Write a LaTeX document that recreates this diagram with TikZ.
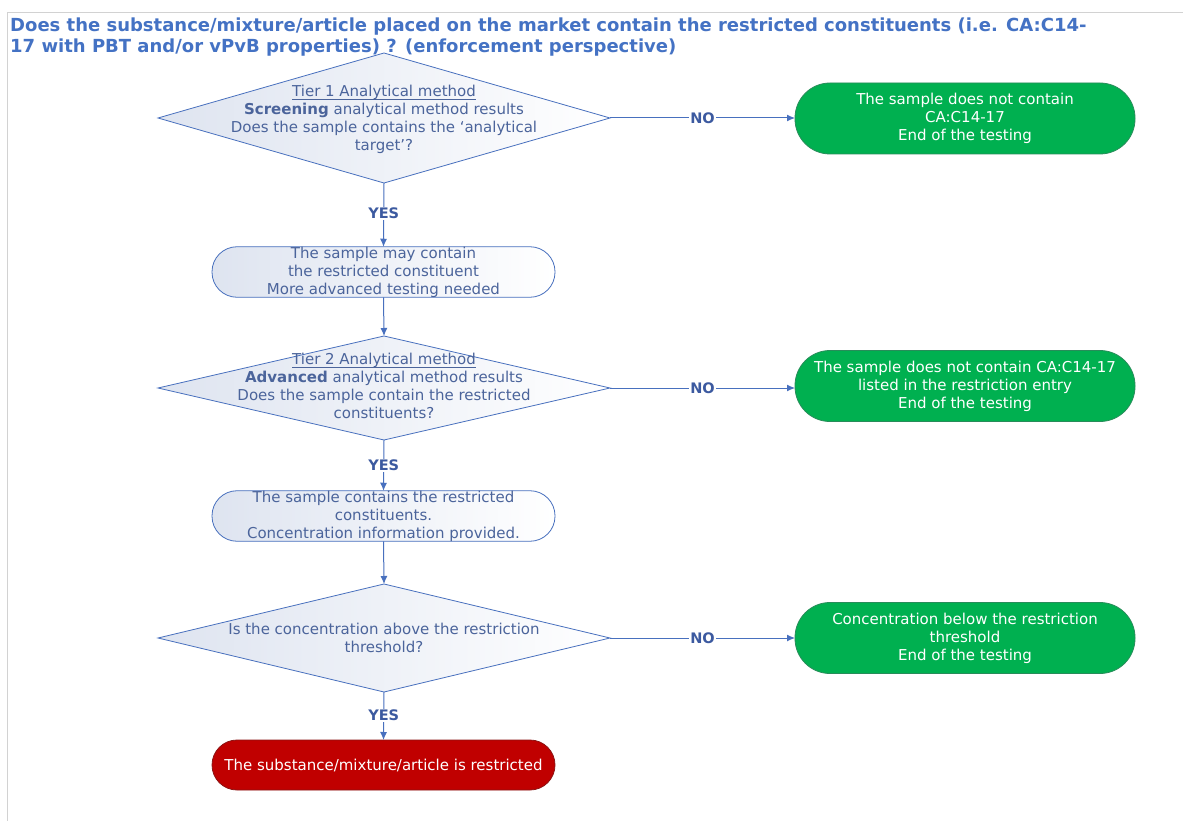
\documentclass[tikz,border=0pt]{standalone}
\usepackage{fontspec}
\setmainfont{DejaVu Sans}
\usetikzlibrary{arrows.meta,shapes.geometric}
\definecolor{titleblue}{RGB}{68,114,196}
\definecolor{txtblue}{RGB}{75,100,155}
\definecolor{lineblue}{RGB}{72,112,190}
\definecolor{lblblue}{RGB}{60,90,160}
\definecolor{boxgreen}{RGB}{0,176,80}
\definecolor{greenedge}{RGB}{40,140,90}
\definecolor{boxred}{RGB}{192,0,0}
\definecolor{rededge}{RGB}{140,20,20}
\definecolor{shadeblue}{RGB}{222,228,240}
\newcommand{\myul}[1]{\setbox0\hbox{#1}\rlap{\raisebox{-3pt}{\rule{\wd0}{0.8pt}}}\box0}
\tikzset{
  x=1pt, y=-1pt,
  dec/.style={shape=diamond, draw=lineblue, line width=0.8pt, inner sep=0pt, outer sep=0pt,
    minimum width=452pt, minimum height=#1, left color=shadeblue, right color=white},
  dectext/.style={align=center, text=txtblue, font=\fontsize{15}{18}\selectfont},
  procbox/.style={draw=lineblue, line width=0.8pt, rounded corners=25pt, minimum width=343pt,
    minimum height=50pt, inner sep=0pt, outer sep=0pt, align=center, text=txtblue,
    left color=shadeblue, right color=white, font=\fontsize{15}{18}\selectfont},
  endbox/.style={draw=greenedge, line width=0.8pt, fill=boxgreen, rounded corners=35pt,
    minimum width=340pt, minimum height=71pt, inner sep=0pt, outer sep=0pt, align=center,
    text=white, font=\fontsize{15}{18}\selectfont},
  redbox/.style={draw=rededge, line width=0.8pt, fill=boxred, rounded corners=25pt,
    minimum width=343pt, minimum height=50pt, inner sep=0pt, outer sep=0pt, align=center,
    text=white, font=\fontsize{15}{18}\selectfont},
  flow/.style={draw=lineblue, line width=1pt, -{Latex[length=8pt,width=7pt]}},
  lbl/.style={fill=white, inner sep=1pt, text=lblblue, font=\bfseries\fontsize{14.5}{15}\selectfont}
}
\begin{document}
\begin{tikzpicture}
\useasboundingbox (0,0) rectangle (1183,821);
\fill[white] (0,0) rectangle (1183,821);
\draw[gray!35, line width=0.6pt] (7,821) -- (7,12) -- (1183,12);
% diamond 1
\node[dec=130pt] (d1) at (384,118) {};
% title
\node[anchor=north west, inner sep=0pt, align=left, text=titleblue,
  font=\bfseries\fontsize{18}{21}\selectfont] (title) at (10,18)
  {Does the substance/mixture/article placed on the market contain the restricted constituents (i.e. CA:C14-\\17 with PBT and/or vPvB properties) ? (enforcement perspective)};
\node[dectext] (d1t) at (384,119.5) {\myul{Tier 1 Analytical method}\\\textbf{Screening} analytical method results\\Does the sample contains the ‘analytical\\target’?};
\node[endbox] (g1) at (965,118.5) {The sample does not contain\\CA:C14-17\\End of the testing};
\node[procbox] (p1) at (383.5,272) {The sample may contain\\the restricted constituent\\More advanced testing needed};
% diamond 2
\node[dec=104pt] (d2) at (384,388) {};
\node[dectext] (d2t) at (384,386) {\myul{Tier 2 Analytical method}\\\textbf{Advanced} analytical method results\\Does the sample contain the restricted\\constituents?};
\node[endbox] (g2) at (965,386) {The sample does not contain CA:C14-17\\listed in the restriction entry\\End of the testing};
\node[procbox] (p2) at (383.5,516) {The sample contains the restricted\\constituents.\\Concentration information provided.};
% diamond 3
\node[dec=108pt] (d3) at (384,638) {};
\node[dectext] (d3t) at (384,637.5) {Is the concentration above the restriction\\threshold?};
\node[endbox] (g3) at (965,638) {Concentration below the restriction\\threshold\\End of the testing};
\node[redbox] (r1) at (383.5,765) {The substance/mixture/article is restricted};
% connectors
\draw[flow] (d1.east) -- node[lbl] {NO} (g1.west |- d1.east);
\draw[flow] (d1.south) -- node[lbl, pos=0.48] {YES} (p1.north);
\draw[flow] (p1.south) -- (d2.north);
\draw[flow] (d2.east) -- node[lbl] {NO} (g2.west |- d2.east);
\draw[flow] (d2.south) -- node[lbl, pos=0.5] {YES} (p2.north);
\draw[flow] (p2.south) -- (d3.north);
\draw[flow] (d3.east) -- node[lbl] {NO} (g3.west |- d3.east);
\draw[flow] (d3.south) -- node[lbl, pos=0.48] {YES} (r1.north);
\end{tikzpicture}
\end{document}
